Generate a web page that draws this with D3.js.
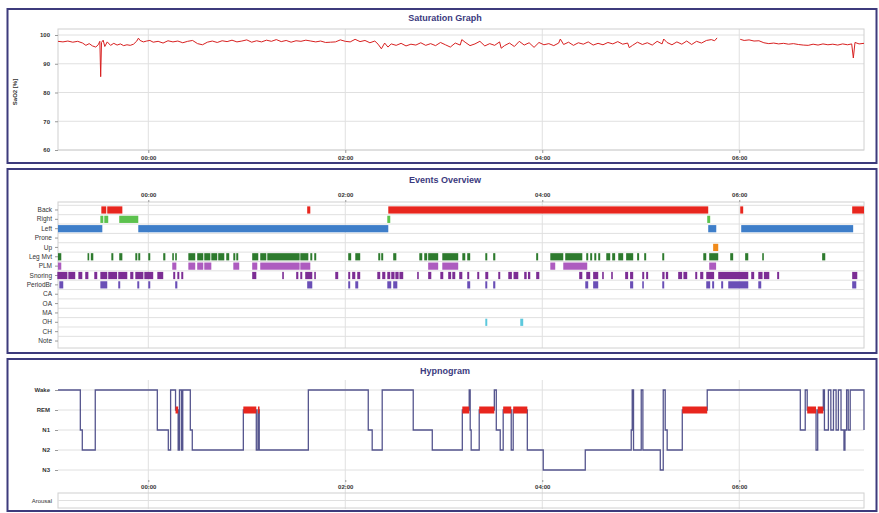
<!DOCTYPE html>
<meta charset="utf-8">
<style>
body { margin: 0; background: #fff; }
svg { font-family: "Liberation Sans", Arial, sans-serif; }
.panel { fill: #fff; stroke: #3d3b7c; stroke-width: 2; }
.title { font-size: 9px; font-weight: bold; fill: #3b3a7e; text-anchor: middle; }
.axis text { font-size: 6px; fill: #333; }
.axis path { display: none; }
.axis line { stroke: #999; }
.grid { stroke: #e0e0e0; stroke-width: 1; }
.frame { fill: none; stroke: #d0d0d0; }
</style>
<svg width="879" height="513"></svg>
<script src="https://cdn.jsdelivr.net/npm/d3@7"></script>
<script>

// times are minutes relative to midnight (negative = before 00:00)
var timeTicks = [0, 120, 240, 360];
var spo2Ticks = [60, 70, 80, 90, 100];

var spo2 = [[-55,97.8],[-52,97.6],[-49,97.9],[-46,97.5],[-43,97.8],[-40,97.2],[-38,96.4],[-36,97.0],[-34,96.2],[-32,95.8],
  [-30.5,96.6],[-29.5,97.8],[-29,85.5],[-28.5,97.4],[-27.5,98.2],[-26.5,96.0],[-25,97.6],[-23,96.4],[-21,97.1],[-19,96.5],
  [-17,96.9],[-15,96.3],[-13,96.6],[-11,96.4],[-9,96.8],[-7,97.9],[-6,98.9],[-5,98.1],[-3,97.6],[-1,97.9],[1,98.1],[3,97.5],
  [6,97.8],[9,97.2],[12,98.0],[15,97.6],[18,97.9],[21,97.3],[24,97.8],[27,98.1],[30,97.0],[33,96.6],[36,97.5],[39,97.9],
  [42,97.4],[45,98.0],[48,97.7],[51,98.2],[54,97.6],[57,97.9],[60,98.3],[63,97.5],[66,98.0],[69,97.6],[72,98.2],[75,97.8],
  [78,98.4],[81,97.7],[84,98.1],[87,97.5],[90,98.0],[93,97.8],[96,98.2],[99,97.9],[102,97.6],[105,97.9],[108,97.4],[111,97.5],
  [114,97.6],[117,98.3],[120,97.8],[123,97.6],[126,98.5],[129,97.7],[132,98.1],[135,97.3],[138,97.9],[140,96.8],[142,95.2],
  [144,97.2],[146,95.8],[148,96.9],[151,96.4],[154,97.1],[157,96.2],[160,96.8],[163,96.5],[166,97.3],[169,96.4],[172,97.0],
  [175,96.3],[178,97.4],[181,96.6],[184,95.8],[187,97.2],[190,96.5],[191,98.4],[193,97.5],[196,96.3],[199,96.9],[202,97.8],
  [205,96.2],[208,97.0],[211,96.4],[214,97.6],[215,95.4],[217,96.3],[220,97.2],[223,96.0],[226,97.8],[229,96.5],[232,97.3],
  [235,95.7],[238,97.4],[241,96.6],[244,97.0],[247,96.3],[250,97.2],[251,98.6],[253,96.7],[256,97.5],[259,96.4],[262,97.3],
  [265,96.8],[268,97.6],[271,96.5],[274,97.1],[277,96.6],[280,97.4],[283,96.9],[286,97.7],[289,96.8],[292,97.2],[293,95.6],
  [295,96.4],[298,97.5],[301,96.7],[304,97.3],[307,96.5],[310,97.8],[313,96.9],[314,98.6],[316,97.4],[319,96.6],[322,97.6],
  [325,96.8],[328,97.9],[331,96.7],[334,97.8],[337,97.2],[340,98.1],[343,98.4],[345,98.0],[346.5,99.0],[350,null],
  [360.6,98.5],[363,98.1],[366,98.3],[369,97.9],[372,98.0],[375,97.3],[378,97.0],[381,97.2],[384,96.9],[387,97.1],[390,96.8],
  [393,97.0],[396,96.7],[399,96.5],[402,96.4],[405,96.8],[408,96.5],[411,96.9],[414,96.6],[417,96.8],[420,96.5],[423,96.9],
  [426,96.6],[428.5,96.9],[429.5,92.0],[430.5,97.4],[433,96.9],[436,97.1]];

var eventRows = ["Back","Right","Left","Prone","Up","Leg Mvt","PLM","Snoring","PeriodBr","CA","OA","MA","OH","CH","Note"];

var backEv = [[-28.6,-25.6],[-25,-15.8],[96.8,98.7],[146.2,341.1],[360.6,362.4],[428.8,436]];
var rightEv = [[-29.2,-27.4],[-26.8,-24.4],[-17.7,-6.1],[145.6,147.4],[340.5,342.3]];
var leftEv = [[-55,-28],[-6.1,146.2],[341.1,346],[361.2,429.4]];
var upEv = [[344.1,347.2]];
var legEv = [[-55,-53],[-37,-36],[-35,-33.5],[-22.5,-21.3],[-17.7,-15.8],[-7.9,-6.7],[-6.1,-4.9],[0,1.2],[9.1,10.4],
  [14.6,15.2],[16.4,17.1],[24.4,28.6],[29.8,33.5],[34.1,37.8],[38.4,42],[42.6,46.3],[47.5,49.3],[51.8,53],[53.6,54.8],
  [63.3,67],[68.2,71.9],[72.5,92.2],[92.6,97.5],[98.7,99.9],[101.1,102.3],[121.8,123.6],[126.1,129.1],[140.1,141.3],
  [141.9,143.1],[149.2,151.1],[165.1,166.9],[168.1,169.9],[170.5,176.6],[179.1,188.8],[191.3,193.1],[194.3,196.1],
  [205.3,206.5],[210.1,211.4],[236.3,237.5],[244.9,252.8],[254,264.4],[266.8,268],[269.2,270.4],[271.7,272.9],[274.1,275.3],
  [279,281.4],[282.6,284.4],[286.3,289.3],[291.1,295.4],[297.8,299],[302.1,303.3],[313.1,314.3],[338.1,339.9],[341.7,347.2],
  [354.5,356.3],[363.6,365.5],[374,374.8],[410.5,412.4]];
var plmEv = [[-55,-53],[14.6,17.1],[24.4,28.6],[29.8,33.5],[34.1,38.4],[51.8,55.4],[63.3,66.4],[68.2,92.2],[92.6,98.7],
  [170.5,176.6],[179.1,188.8],[244.9,247.9],[252.8,267.4],[341.7,345.9]];
var snoreEv = [[-55.4,-49.3],[-48.7,-44.5],[-42.6,-40.2],[-38.4,-36.5],[-32.9,-31.1],[-29.2,-25],[-24.4,-19],[-18.3,-12.8],
  [-11,-9.1],[-7.9,-3],[-2.4,3],[5.5,9.1],[15.2,16.4],[17.7,18.9],[20.1,21.3],[63.3,65.8],[81.6,82.2],[90.1,91.4],[92.6,93.8],
  [95.6,99.9],[101.1,101.7],[113.9,115.7],[121.8,123],[124.2,126.1],[127.3,129.1],[139.5,141.3],[142.5,144.4],[145.6,147.4],
  [148,150],[150.5,152.5],[153,155.3],[163.8,164.5],[170.5,172.4],[177.9,179.7],[182.7,184.5],[185.2,187],[189.4,191.3],
  [194.3,195.5],[200.4,201.6],[205.3,207.1],[213.2,214.4],[219.3,221.5],[222.5,225.4],[229,230.5],[231.3,232.7],[236.3,238.2],
  [262.5,264.4],[266.8,269.2],[271,274.1],[276.5,277.1],[282,282.6],[290.5,292.3],[293.5,295.4],[300.9,302.1],[303.3,304.5],
  [313.1,314.5],[315.3,316.7],[322.8,325.2],[326,328.3],[333.2,334.4],[336.2,338.1],[339.9,344.7],[347.2,365.5],[367.3,369.1],
  [371.6,374.2],[375,378.3],[383.1,384.3],[428.8,431.9]];
var periodEv = [[-54.2,-51.8],[-29.2,-25],[-18.3,-17.1],[-6.7,-5.5],[0,1.2],[16.4,17.7],[96.8,99.9],[121.8,123],[126.1,127.9],
  [145.6,148],[149.2,151.7],[194.3,196.1],[205.3,206.5],[210.1,211.4],[266.2,268],[271,274.1],[293.5,295.4],[300.9,301.5],
  [313.1,314.3],[339.9,342.3],[343.5,344.7],[349,350.2],[353.3,365.5],[371.6,373.4],[428.8,431.3]];
var ohEv = [[205.3,206.5],[226.6,228.4]];

var stages = ["Wake","REM","N1","N2","N3"];
var hypnogram = [[-55,"Wake"],[-41.4,"N1"],[-40.2,"N2"],[-32.3,"Wake"],[5.5,"N1"],[12.2,"N2"],[13.6,"Wake"],[16.6,"REM"],
  [18.2,"N2"],[19,"Wake"],[20.2,"N2"],[21,"Wake"],[25.6,"N1"],[26.8,"N2"],[57.9,"REM"],[65.8,"N2"],[66.8,"REM"],[67.6,"N2"],
  [97.5,"Wake"],[134,"N1"],[136.4,"N2"],[142.5,"Wake"],[161.4,"N1"],[173,"N2"],[191.3,"REM"],[195.5,"Wake"],[196.1,"N1"],
  [196.7,"N2"],[201.6,"REM"],[210.8,"Wake"],[212,"N1"],[214.4,"N2"],[216.2,"REM"],[221.1,"N2"],[222.3,"REM"],[230.9,"N2"],
  [240.6,"N3"],[266.2,"N2"],[294.2,"N1"],[294.8,"Wake"],[295.6,"N2"],[300.3,"Wake"],[301.3,"N2"],[311.9,"N3"],[313.7,"Wake"],
  [314.9,"N1"],[316.1,"N2"],[325.3,"REM"],[340.5,"Wake"],[397.2,"N1"],[400.2,"Wake"],[401.4,"REM"],[406.8,"N2"],[407.8,"REM"],
  [411.2,"Wake"],[411.9,"N1"],[414.3,"Wake"],[415.8,"N1"],[417.4,"Wake"],[419,"N1"],[420.4,"Wake"],[422,"N1"],[423.8,"N2"],
  [424.4,"N1"],[425.4,"Wake"],[426.4,"N1"],[427.6,"Wake"],[436,"N1"]];

var svg = d3.select("svg");

var x = d3.scaleLinear().domain([-55, 436]).range([58, 864]);

function fmt(m) {
  var h = Math.floor(((m / 60) + 24) % 24);
  var mm = Math.round(((m % 60) + 60) % 60);
  return (h < 10 ? "0" : "") + h + ":" + (mm < 10 ? "0" : "") + mm;
}

function vgrid(y0, y1) {
  svg.append("g").selectAll("line").data(timeTicks).enter().append("line")
    .attr("class", "grid")
    .attr("x1", function(d) { return x(d); }).attr("x2", function(d) { return x(d); })
    .attr("y1", y0).attr("y2", y1);
}

// ---------- panel 1: saturation ----------
svg.append("rect").attr("class", "panel").attr("x", 7.5).attr("y", 9).attr("width", 869).attr("height", 154);
svg.append("text").attr("class", "title").attr("x", 445).attr("y", 21).text("Saturation Graph");

var ySat = d3.scaleLinear().domain([60, 100]).range([150, 35]);

svg.append("g").selectAll("line").data(spo2Ticks).enter().append("line")
  .attr("class", "grid")
  .attr("x1", 58).attr("x2", 864)
  .attr("y1", function(d) { return ySat(d); }).attr("y2", function(d) { return ySat(d); });
vgrid(29, 150);
svg.append("rect").attr("class", "frame").attr("x", 58).attr("y", 29).attr("width", 806).attr("height", 121);

svg.append("g").attr("class", "axis").attr("transform", "translate(58,0)")
  .call(d3.axisLeft(ySat).tickValues(spo2Ticks).tickSize(3).tickPadding(5))
  .selectAll("text").style("font-weight", "bold");
svg.append("g").attr("class", "axis").attr("transform", "translate(0,150)")
  .call(d3.axisBottom(x).tickValues(timeTicks).tickFormat(fmt).tickSize(3).tickPadding(3))
  .selectAll("text").style("font-weight", "bold");

svg.append("text").attr("transform", "translate(17,92) rotate(-90)")
  .attr("text-anchor", "middle").attr("font-size", "6px").attr("font-weight", "bold").attr("fill", "#333")
  .text("SaO2 [%]");

svg.append("path").datum(spo2)
  .attr("fill", "none").attr("stroke", "#d82020").attr("stroke-width", 1)
  .attr("d", d3.line().defined(function(d) { return d[1] != null; })
    .x(function(d) { return x(d[0]); }).y(function(d) { return ySat(d[1]); }));

// ---------- panel 2: events ----------
svg.append("rect").attr("class", "panel").attr("x", 7.5).attr("y", 169).attr("width", 869).attr("height", 184);
svg.append("text").attr("class", "title").attr("x", 445).attr("y", 183).text("Events Overview");

var yRow = d3.scaleBand().domain(eventRows).range([205.3, 345.7]);

svg.append("g").selectAll("line").data(eventRows).enter().append("line")
  .attr("class", "grid")
  .attr("x1", 58).attr("x2", 864)
  .attr("y1", function(d) { return yRow(d); }).attr("y2", function(d) { return yRow(d); });
vgrid(202, 348);
svg.append("rect").attr("class", "frame").attr("x", 58).attr("y", 202).attr("width", 806).attr("height", 146);

svg.append("g").attr("class", "axis").attr("transform", "translate(58,0)")
  .call(d3.axisLeft(yRow).tickSize(3).tickPadding(3))
  .selectAll("text").style("font-size", "6.5px");
svg.append("g").attr("class", "axis").attr("transform", "translate(0,202)")
  .call(d3.axisTop(x).tickValues(timeTicks).tickFormat(fmt).tickSize(2).tickPadding(3))
  .selectAll("text").style("font-weight", "bold");

var eventTable = [
  { row: "Back", color: "#e8261e", ev: backEv },
  { row: "Right", color: "#5cc24e", ev: rightEv },
  { row: "Left", color: "#3e7ec9", ev: leftEv },
  { row: "Up", color: "#f08a1a", ev: upEv },
  { row: "Leg Mvt", color: "#2d7a2d", ev: legEv },
  { row: "PLM", color: "#ad5cbf", ev: plmEv },
  { row: "Snoring", color: "#7c2d94", ev: snoreEv },
  { row: "PeriodBr", color: "#6a4fb6", ev: periodEv },
  { row: "OH", color: "#5cc8dc", ev: ohEv }
];

var bh = 7.2;
eventTable.forEach(function(r) {
  svg.append("g").selectAll("rect").data(r.ev).enter().append("rect")
    .attr("x", function(d) { return x(d[0]); })
    .attr("width", function(d) { return Math.max(1.6, x(d[1]) - x(d[0])); })
    .attr("y", yRow(r.row) + (yRow.bandwidth() - bh) / 2)
    .attr("height", bh)
    .attr("fill", r.color);
});

// ---------- panel 3: hypnogram ----------
svg.append("rect").attr("class", "panel").attr("x", 7.5).attr("y", 359).attr("width", 869).attr("height", 152);
svg.append("text").attr("class", "title").attr("x", 445).attr("y", 374).text("Hypnogram");

var yStage = d3.scalePoint().domain(stages).range([390, 470]);

svg.append("g").selectAll("line").data(stages).enter().append("line")
  .attr("class", "grid")
  .attr("x1", 58).attr("x2", 864)
  .attr("y1", function(d) { return yStage(d); }).attr("y2", function(d) { return yStage(d); });
vgrid(380, 509);

svg.append("g").attr("class", "axis").attr("transform", "translate(58,0)")
  .call(d3.axisLeft(yStage).tickSize(3).tickPadding(5))
  .selectAll("text").style("font-weight", "bold");
svg.append("g").attr("class", "axis").attr("transform", "translate(0,480)")
  .call(d3.axisBottom(x).tickValues(timeTicks).tickFormat(fmt).tickSize(2).tickPadding(3))
  .selectAll("text").style("font-weight", "bold");

svg.append("path").datum(hypnogram)
  .attr("fill", "none").attr("stroke", "#55558e").attr("stroke-width", 1.3)
  .attr("d", d3.line().curve(d3.curveStepAfter)
    .x(function(d) { return x(d[0]); }).y(function(d) { return yStage(d[1]); }));

var remSegs = [];
hypnogram.forEach(function(d, i) {
  if (d[1] === "REM" && i + 1 < hypnogram.length) remSegs.push([d[0], hypnogram[i + 1][0]]);
});
svg.append("g").selectAll("rect").data(remSegs).enter().append("rect")
  .attr("x", function(d) { return x(d[0]); })
  .attr("width", function(d) { return Math.max(1.6, x(d[1]) - x(d[0])); })
  .attr("y", yStage("REM") - 3.5).attr("height", 7)
  .attr("fill", "#e8261e");

// arousal strip
svg.append("rect").attr("class", "frame").attr("x", 58).attr("y", 493).attr("width", 806).attr("height", 15)
  .attr("stroke", "#bbb");
svg.append("line").attr("class", "grid").attr("x1", 58).attr("x2", 864).attr("y1", 500.5).attr("y2", 500.5);
svg.append("text").attr("x", 52).attr("y", 503).attr("text-anchor", "end")
  .attr("font-size", "6px").attr("fill", "#333").text("Arousal");

</script>
